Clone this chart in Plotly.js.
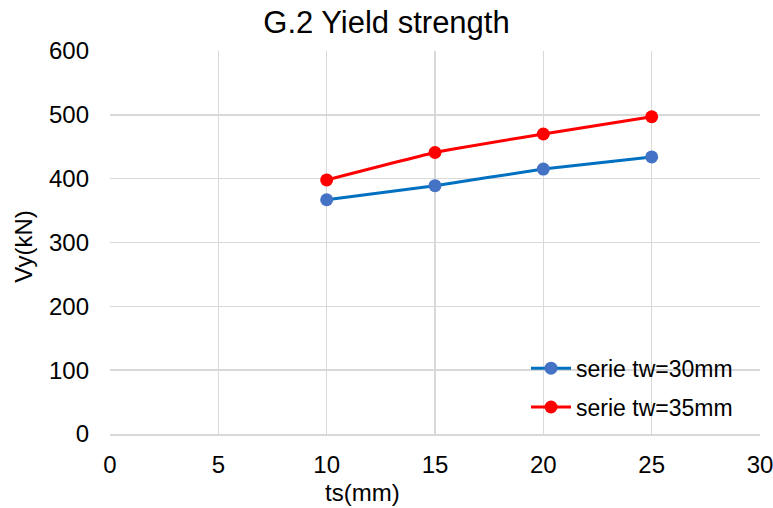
<!DOCTYPE html>
<html>
<head>
<meta charset="utf-8">
<script src="https://cdn.plot.ly/plotly-3.0.1.min.js"></script>
<style>
  html, body { margin: 0; padding: 0; background: #fff; }
  #chart { width: 773px; height: 508px; }
</style>
</head>
<body>
<div id="chart"></div>
<script>
// Slab thickness ts (mm)
const ts = [10, 15, 20, 25];
// Yield strength Vy (kN) for two web thicknesses
const vyTw30 = [367, 389, 415, 434];
const vyTw35 = [398, 441, 470, 497];
const seriesNames = ['serie tw=30mm', 'serie tw=35mm'];
const xTicks = [0, 5, 10, 15, 20, 25, 30];
const yTicks = [0, 100, 200, 300, 400, 500, 600];

const font = 'Liberation Sans, Arial, sans-serif';

const traces = [
  {
    x: ts, y: vyTw30, name: seriesNames[0], type: 'scatter', mode: 'lines+markers',
    legendgroup: 'a',
    line: { color: '#0070C0', width: 3, shape: 'spline', smoothing: 0.3 },
    marker: { color: '#4472C4', size: 13 }
  },
  {
    x: ts, y: vyTw35, name: seriesNames[1], type: 'scatter', mode: 'lines+markers',
    legendgroup: 'b',
    line: { color: '#FF0000', width: 3, shape: 'spline', smoothing: 0.3 },
    marker: { color: '#FF0000', size: 13 }
  }
];

const layout = {
  width: 773, height: 508,
  margin: { l: 110, r: 13, t: 51, b: 74 },
  paper_bgcolor: '#fff', plot_bgcolor: '#fff',
  font: { family: font, color: '#000', size: 24 },
  title: { text: 'G.2 Yield strength', xref: 'container', x: 0.5, y: 0.957, yanchor: 'middle',
           font: { family: font, size: 31, color: '#000' } },
  xaxis: {
    range: [0, 30], tickvals: xTicks, ticktext: xTicks.map(String),
    showgrid: true, gridcolor: '#d9d9d9', gridwidth: 1.5,
    showline: true, linecolor: '#d9d9d9', linewidth: 1.5,
    zeroline: false, ticks: '', ticklabelstandoff: 9, ticklabeloverflow: 'allow',
    tickfont: { family: font, size: 24, color: '#000' }
  },
  yaxis: {
    range: [0, 600], tickvals: yTicks, ticktext: yTicks.map(String),
    showgrid: true, gridcolor: '#d9d9d9', gridwidth: 1.5,
    showline: false, zeroline: false, ticks: '', ticklabelstandoff: 20,
    tickfont: { family: font, size: 24, color: '#000' }
  },
  showlegend: true,
  legend: {
    x: 0.64, y: 0.228, xanchor: 'left', yanchor: 'top',
    bgcolor: 'rgba(0,0,0,0)', borderwidth: 0,
    font: { family: font, size: 23, color: '#000' },
    tracegroupgap: 6, itemwidth: 40
  },
  annotations: [
    { text: 'ts(mm)', xref: 'paper', yref: 'paper', x: 0.388, y: -0.154,
      xanchor: 'center', yanchor: 'middle',
      showarrow: false, font: { family: font, size: 24, color: '#000' } },
    { text: 'Vy(kN)', xref: 'paper', yref: 'paper', x: -0.133, y: 0.488, textangle: -90,
      xanchor: 'center', yanchor: 'middle',
      showarrow: false, font: { family: font, size: 24, color: '#000' } }
  ]
};

Plotly.newPlot('chart', traces, layout, { displayModeBar: false, staticPlot: true });
</script>
</body>
</html>
